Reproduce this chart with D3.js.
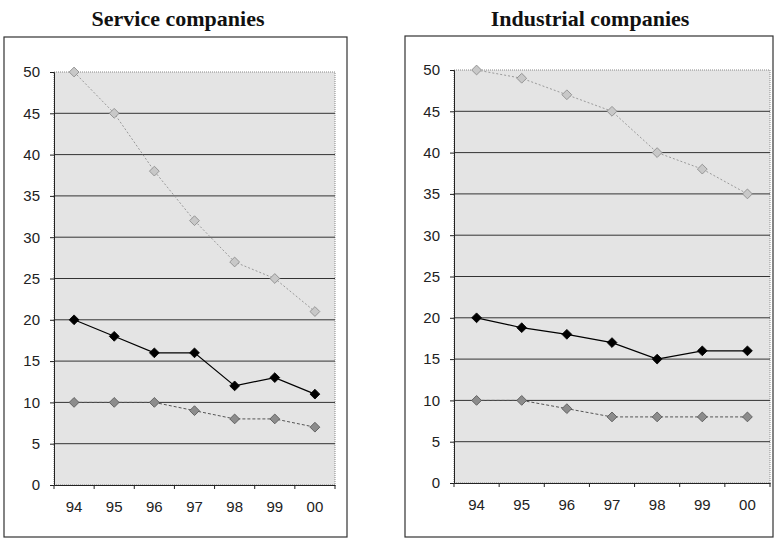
<!DOCTYPE html>
<html><head><meta charset="utf-8">
<script src="https://cdn.jsdelivr.net/npm/d3@7"></script>
<style>body{margin:0;background:#fff;}svg{display:block;}</style>
</head><body>
<svg id="chart" width="783" height="539"></svg>
<script>
const years = ["94","95","96","97","98","99","00"];
const yTicks = [0,5,10,15,20,25,30,35,40,45,50];
const titles = ["Service companies","Industrial companies"];
const serviceTop = [50,45,38,32,27,25,21];
const serviceMid = [20,18,16,16,12,13,11];
const serviceLow = [10,10,10,9,8,8,7];
const industrialTop = [50,49,47,45,40,38,35];
const industrialMid = [20,18.8,18,17,15,16,16];
const industrialLow = [10,10,9,8,8,8,8];

const svg = d3.select("#chart");
const panels = [
  {title:titles[0], series:[serviceTop,serviceMid,serviceLow], frame:[4,37,347,537], plot:[54,72,335,485], tx:178},
  {title:titles[1], series:[industrialTop,industrialMid,industrialLow], frame:[405,36,773,537], plot:[454,70,770,483], tx:590}
];
const styles = [
  {line:"#9a9a9a", dash:"2,2", mfill:"#c8c8c8", mstroke:"#8a8a8a", w:1},
  {line:"#000", dash:null, mfill:"#000", mstroke:"#000", w:1.2},
  {line:"#555", dash:"3,2", mfill:"#8c8c8c", mstroke:"#555", w:1}
];
const sans = "'Liberation Sans', Arial, Helvetica, sans-serif";

panels.forEach(p=>{
  const g = svg.append("g");
  g.append("text").attr("x",p.tx).attr("y",26).attr("text-anchor","middle")
    .attr("font-family","'Liberation Serif', 'Times New Roman', serif").attr("font-weight","bold").attr("font-size",22)
    .attr("fill","#111").text(p.title);
  const [fx0,fy0,fx1,fy1] = p.frame;
  g.append("rect").attr("x",fx0).attr("y",fy0).attr("width",fx1-fx0).attr("height",fy1-fy0)
    .attr("fill","none").attr("stroke","#333").attr("stroke-width",1.2);
  const [px0,py0,px1,py1] = p.plot;
  const x = d3.scaleBand().domain(years).range([px0,px1]);
  const y = d3.scaleLinear().domain([0,50]).range([py1,py0]);
  g.append("rect").attr("x",px0).attr("y",py0).attr("width",px1-px0).attr("height",py1-py0)
    .attr("fill","#e4e4e4").attr("stroke","#888").attr("stroke-dasharray","1,1");
  g.selectAll(".grid").data(yTicks.filter(t=>t>0 && t<50)).join("line")
    .attr("x1",px0).attr("x2",px1).attr("y1",d=>y(d)).attr("y2",d=>y(d))
    .attr("stroke","#333").attr("stroke-width",1);
  const ya = g.append("g").attr("transform",`translate(${px0},0)`)
    .call(d3.axisLeft(y).tickValues(yTicks).tickSize(4).tickPadding(10));
  ya.select(".domain").attr("stroke","#222");
  ya.selectAll("text").attr("font-family",sans).attr("font-size",15).attr("fill","#222");
  ya.selectAll(".tick line").attr("stroke","#222");
  const xa = g.append("g").attr("transform",`translate(0,${py1})`)
    .call(d3.axisBottom(x).tickSize(0).tickPadding(16));
  xa.select(".domain").attr("stroke","#222");
  xa.selectAll("text").attr("font-family",sans).attr("font-size",15).attr("fill","#222");
  const edges = years.map(yr=>x(yr)).concat([px1]);
  g.selectAll(".xt").data(edges).join("line").attr("x1",d=>d).attr("x2",d=>d)
    .attr("y1",py1).attr("y2",py1+4).attr("stroke","#222");
  p.series.forEach((vals,i)=>{
    const st = styles[i];
    const line = d3.line().x((d,j)=>x(years[j])+x.bandwidth()/2).y(d=>y(d));
    g.append("path").datum(vals).attr("d",line).attr("fill","none")
      .attr("stroke",st.line).attr("stroke-width",st.w).attr("stroke-dasharray",st.dash);
    g.selectAll(".m"+i).data(vals).join("path")
      .attr("d",d3.symbol(d3.symbolSquare, 48))
      .attr("transform",(d,j)=>`translate(${x(years[j])+x.bandwidth()/2},${y(d)}) rotate(45)`)
      .attr("fill",st.mfill).attr("stroke",st.mstroke).attr("stroke-width",0.8);
  });
});
</script>
</body></html>
